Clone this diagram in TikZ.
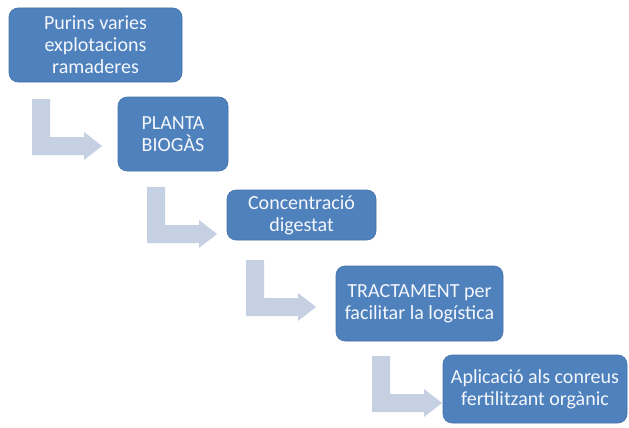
\documentclass[tikz,border=0pt]{standalone}
\usepackage{fontspec}
\setmainfont{Carlito}
\definecolor{boxblue}{RGB}{79,129,189}
\definecolor{boxedge}{RGB}{70,114,168}
\definecolor{arrowgray}{RGB}{197,208,227}
\definecolor{txt}{RGB}{244,247,252}
\begin{document}
\begin{tikzpicture}[x=1pt,y=-1pt,
  stage/.style={rectangle, rounded corners=9pt, fill=boxblue, draw=boxedge, line width=0.6pt,
    text=txt, align=center, inner sep=0pt, font=\fontsize{20}{22}\selectfont},
  larrow/.pic={\fill[arrowgray] (0,0) -- (18,0) -- (18,38) -- (52,38) -- (52,33) -- (70,47) -- (52,61) -- (52,56) -- (0,56) -- cycle;}
]
\useasboundingbox (0,0) rectangle (629,428);
\node[stage, minimum width=173pt, minimum height=74pt] (b1) at (95.5,45) {Purins varies\\explotacions\\ramaderes};
\node[stage, minimum width=110pt, minimum height=74pt] (b2) at (173,134) {PLANTA\\BIOGÀS};
\node[stage, minimum width=149pt, minimum height=50pt] (b3) at (301.5,215) {Concentració\\digestat};
\node[stage, minimum width=167pt, minimum height=75pt] (b4) at (419.5,303.5) {TRACTAMENT per\\facilitar la logística};
\node[stage, minimum width=184pt, minimum height=68pt] (b5) at (535,389) {Aplicació als conreus\\fertilitzant orgànic};
\coordinate (a1) at (32,99);
\coordinate (a2) at (147,187);
\coordinate (a3) at (246,260);
\coordinate (a4) at (372,356);
\pic at (a1) {larrow};
\pic at (a2) {larrow};
\pic at (a3) {larrow};
\pic at (a4) {larrow};
\end{tikzpicture}
\end{document}
